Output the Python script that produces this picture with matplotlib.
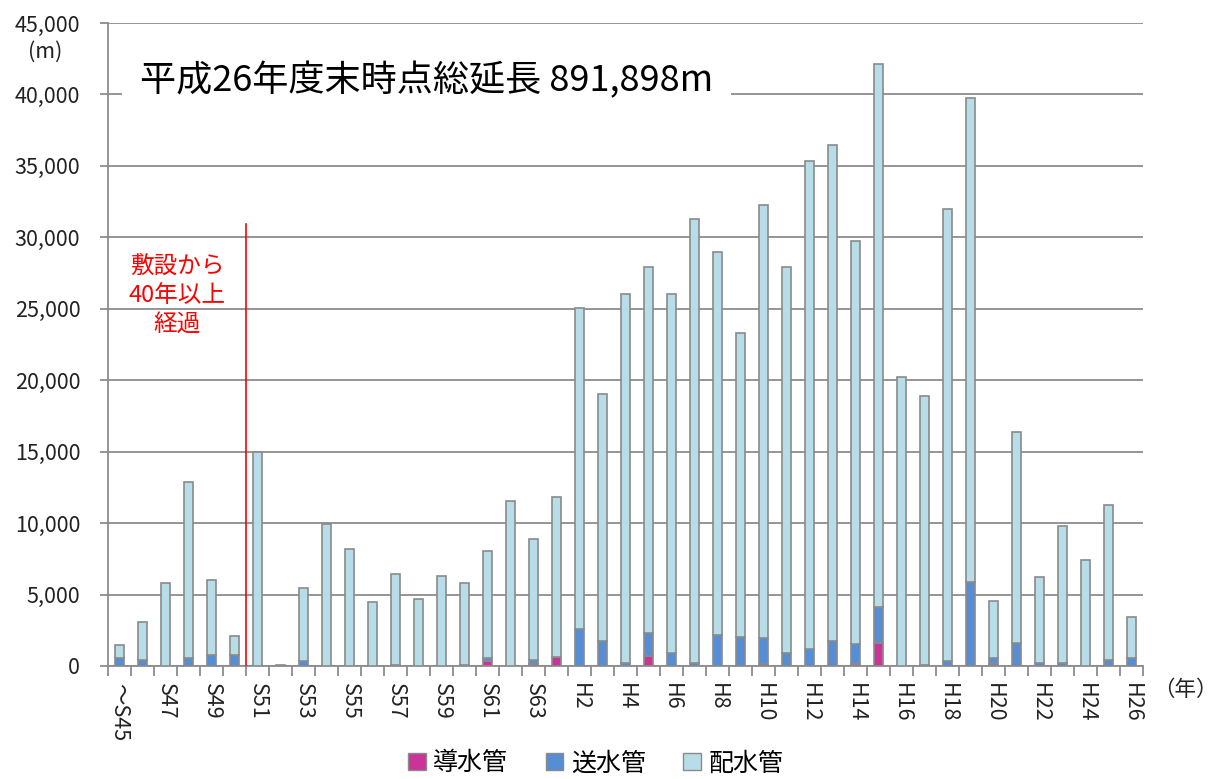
import matplotlib
matplotlib.use("Agg")
import matplotlib.pyplot as plt
from matplotlib.patches import Patch
from matplotlib.ticker import FuncFormatter, MultipleLocator

plt.rcParams['font.family'] = ['Noto Sans CJK JP', 'DejaVu Sans']

# 年度
years = ["～S45"] + ["S%d" % y for y in range(46, 64)] + ["H%d" % y for y in range(1, 27)]

# 導水管 (m)
dousui = [0, 0, 0, 0, 0, 0, 0, 0, 0, 0,
          0, 0, 0, 0, 0, 0, 370, 0, 160, 600,
          0, 0, 0, 720, 0, 0, 0, 0, 160, 0,
          0, 0, 160, 1600, 0, 0, 0, 0, 140, 0,
          0, 0, 0, 0, 0]
# 送水管 (m)
sousui = [550, 420, 0, 540, 750, 750, 0, 0, 330, 0,
          0, 0, 80, 0, 0, 80, 170, 0, 260, 0,
          2580, 1740, 210, 1580, 880, 210, 2190, 2050, 1790, 880,
          1190, 1740, 1370, 2540, 0, 80, 350, 5880, 395, 1630,
          210, 210, 0, 420, 535]
# 配水管 (m)
haisui = [900, 2630, 5780, 12360, 5250, 1330, 14960, 100, 5120, 9950,
          8200, 4470, 6360, 4680, 6320, 5700, 7540, 11580, 8440, 11200,
          22500, 17290, 25830, 25600, 25160, 31070, 26810, 21280, 30320, 27020,
          34130, 34740, 28240, 37990, 20210, 18830, 31600, 33840, 4045, 14750,
          6020, 9620, 7450, 10830, 2865]

c_dou = "#CC3399"
c_sou = "#558ED5"
c_hai = "#B7DEE8"
edge = "#8A8A8A"

fig = plt.figure(figsize=(12.18, 7.79), dpi=100)
ax = fig.add_axes([108/1218, 1 - 666/779, (1143 - 108)/1218, (666 - 23)/779])

x = list(range(len(years)))
w = 0.42
bottom2 = [a + b for a, b in zip(dousui, sousui)]
ax.bar(x, dousui, w, color=c_dou, edgecolor=edge, linewidth=1.2, zorder=3)
ax.bar(x, sousui, w, bottom=dousui, color=c_sou, edgecolor=edge, linewidth=1.2, zorder=3)
ax.bar(x, haisui, w, bottom=bottom2, color=c_hai, edgecolor=edge, linewidth=1.2, zorder=3)

ax.set_xlim(-0.5, len(years) - 0.5)
ax.set_ylim(0, 45000)
ax.yaxis.set_major_locator(MultipleLocator(5000))
ax.yaxis.set_major_formatter(FuncFormatter(lambda v, p: "{:,.0f}".format(v)))
ax.grid(axis="y", color="#8C8C8C", linewidth=1.3, zorder=0)
ax.set_axisbelow(True)

for s in ["top", "right"]:
    ax.spines[s].set_visible(False)
for s in ["left", "bottom"]:
    ax.spines[s].set_color("#8C8C8C")
    ax.spines[s].set_linewidth(1.3)

ax.tick_params(axis="y", length=6, width=1.3, color="#8C8C8C", pad=14, labelsize=15.5, labelcolor="#222222")

# x ticks: labels every other year, tick marks between bars
ax.set_xticks(x)
ax.set_xticklabels([y if i % 2 == 0 else "" for i, y in enumerate(years)], rotation=-90, fontsize=15.5,
                   color="#222222")
ax.tick_params(axis="x", which="major", length=0, pad=12)
ax.set_xticks([i - 0.5 for i in range(len(years) + 1)], minor=True)
ax.tick_params(axis="x", which="minor", length=7, width=1.3, color="#8C8C8C")
for lbl in ax.get_xticklabels():
    lbl.set_va("top")

# 40年経過ライン
ax.plot([5.5, 5.5], [0, 30900], color="red", linewidth=1.2, zorder=4)
ax.text(2.5, 25900, "敷設から\n40年以上\n経過", color="red", fontsize=17, ha="center", va="center",
        linespacing=1.35)

fig.text(0.115, 0.897, "平成26年度末時点総延長 891,898m", fontsize=26, ha="left", va="center",
         bbox=dict(facecolor="white", edgecolor="none", pad=13))
fig.text(45/1218, 1 - 52/779, "(m)", fontsize=15.5, ha="center", va="center", color="#222222")
fig.text(1185/1218, 1 - 690/779, "（年）", fontsize=15.5, ha="center", va="center", color="#222222")

handles = [Patch(facecolor=c_dou, edgecolor=edge, label="導水管"),
           Patch(facecolor=c_sou, edgecolor=edge, label="送水管"),
           Patch(facecolor=c_hai, edgecolor=edge, label="配水管")]
fig.legend(handles=handles, loc="center", bbox_to_anchor=(0.489, 0.02), ncol=3, frameon=False,
           fontsize=18, handlelength=0.7, handleheight=0.7, handletextpad=0.3, columnspacing=1.5)

fig.savefig("out.png", dpi=100)
